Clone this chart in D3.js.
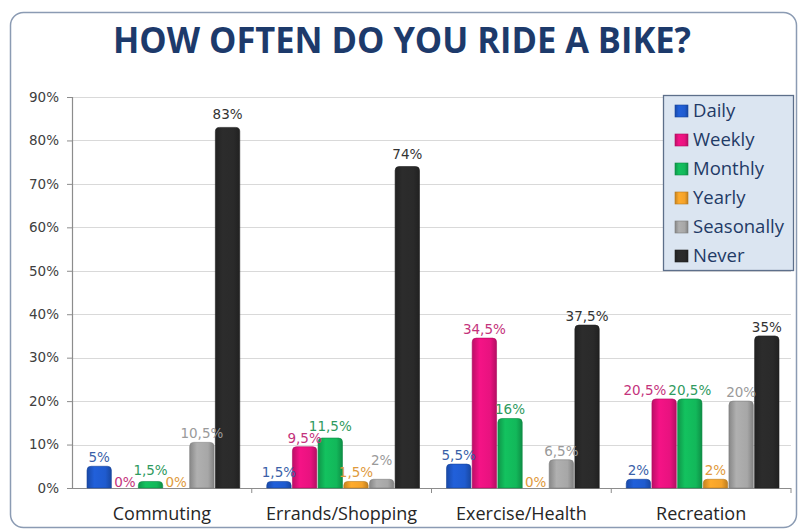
<!DOCTYPE html>
<html>
<head>
<meta charset="utf-8">
<script src="https://cdn.jsdelivr.net/npm/d3@7"></script>
<style>
  html, body { margin: 0; padding: 0; background: #ffffff; }
  svg { display: block; }
</style>
</head>
<body>
<svg id="chart" width="799" height="531"></svg>
<script>
// Survey results: how often respondents ride a bike, by purpose
const categories = ["Commuting", "Errands/Shopping", "Exercise/Health", "Recreation"];
const series = ["Daily", "Weekly", "Monthly", "Yearly", "Seasonally", "Never"];
const daily      = [5, 1.5, 5.5, 2];
const weekly     = [0, 9.5, 34.5, 20.5];
const monthly    = [1.5, 11.5, 16, 20.5];
const yearly     = [0, 1.5, 0, 2];
const seasonally = [10.5, 2, 6.5, 20];
const never      = [83, 74, 37.5, 35];
const yTicks = [0, 10, 20, 30, 40, 50, 60, 70, 80, 90];

const valuesBySeries = { Daily: daily, Weekly: weekly, Monthly: monthly, Yearly: yearly, Seasonally: seasonally, Never: never };

const barColor = { Daily: "#1f5bcf", Weekly: "#e8127f", Monthly: "#12b85a", Yearly: "#f4a229", Seasonally: "#a7a7a7", Never: "#2a2a2a" };
const labelColor = { Daily: "#3a5fa8", Weekly: "#c4337c", Monthly: "#2f9a60", Yearly: "#e09a3c", Seasonally: "#9a9a9a", Never: "#333333" };

const svg = d3.select("#chart");
const plot = { left: 72, right: 791, top: 97, bottom: 488 };

// Outer frame
svg.append("rect")
  .attr("x", 10.5).attr("y", 12.5)
  .attr("width", 786).attr("height", 515)
  .attr("rx", 13).attr("ry", 13)
  .attr("fill", "#ffffff")
  .attr("stroke", "#8b9bb3").attr("stroke-width", 1.5);

// Title
svg.append("text")
  .attr("x", 402).attr("y", 53)
  .attr("text-anchor", "middle")
  .attr("font-family", "'Open Sans', sans-serif")
  .attr("font-weight", 700)
  .attr("font-size", 36)
  .attr("fill", "#1d3a6b")
  .attr("textLength", 578)
  .attr("lengthAdjust", "spacingAndGlyphs")
  .text("HOW OFTEN  DO YOU RIDE A BIKE?");

const x = d3.scaleBand().domain(categories).range([plot.left, plot.right]).paddingInner(0).paddingOuter(0);
const xs = d3.scaleBand().domain(series).range([15, x.bandwidth() - 12]).paddingInner(0.05);
const y = d3.scaleLinear().domain([0, 90]).range([plot.bottom, plot.top]);

// Horizontal gridlines
svg.append("g")
  .selectAll("line")
  .data(yTicks.filter(d => d > 0))
  .join("line")
  .attr("x1", plot.left).attr("x2", plot.right)
  .attr("y1", d => Math.round(y(d)) + 0.5).attr("y2", d => Math.round(y(d)) + 0.5)
  .attr("stroke", "#d9d9d9").attr("stroke-width", 1.2);

// Y axis
const yAxis = svg.append("g")
  .attr("transform", `translate(${plot.left},0)`)
  .call(d3.axisLeft(y).tickValues(yTicks).tickFormat(d => d + "%").tickSize(5).tickPadding(8));
yAxis.select(".domain").attr("stroke", "#8c8c8c").attr("stroke-width", 1.2);
yAxis.selectAll(".tick line").attr("stroke", "#8c8c8c");
yAxis.selectAll(".tick text")
  .attr("font-family", "'DejaVu Sans', sans-serif")
  .attr("font-size", 13.5)
  .attr("fill", "#404040");

// X axis with ticks at category boundaries
const xAxisG = svg.append("g").attr("transform", `translate(0,${plot.bottom})`);
xAxisG.append("line")
  .attr("x1", plot.left).attr("x2", plot.right)
  .attr("y1", 0.5).attr("y2", 0.5)
  .attr("stroke", "#8c8c8c").attr("stroke-width", 1.2);
xAxisG.selectAll("line.tick")
  .data(categories.slice(1).concat(["__end"]))
  .join("line")
  .attr("class", "tick")
  .attr("x1", (d, i) => i < categories.length - 1 ? x(d) : plot.right)
  .attr("x2", (d, i) => i < categories.length - 1 ? x(d) : plot.right)
  .attr("y1", 0).attr("y2", 5)
  .attr("stroke", "#8c8c8c");
xAxisG.selectAll("text")
  .data(categories)
  .join("text")
  .attr("x", d => x(d) + x.bandwidth() / 2)
  .attr("y", 32)
  .attr("text-anchor", "middle")
  .attr("font-family", "'Open Sans', sans-serif")
  .attr("font-size", 18)
  .attr("fill", "#262626")
  .text(d => d);

// Glossy horizontal gradients for the bars
const defs = svg.append("defs");
series.forEach((s, i) => {
  const base = d3.color(barColor[s]);
  const g = defs.append("linearGradient").attr("id", "grad" + i).attr("x1", "0%").attr("x2", "100%").attr("y1", "0%").attr("y2", "0%");
  g.append("stop").attr("offset", "0%").attr("stop-color", base.darker(0.6));
  g.append("stop").attr("offset", "30%").attr("stop-color", base.brighter(0.15));
  g.append("stop").attr("offset", "75%").attr("stop-color", base);
  g.append("stop").attr("offset", "100%").attr("stop-color", base.darker(0.7));
});

// Bar with rounded top corners
function barPath(x0, w, yTop, yBase) {
  const h = yBase - yTop;
  const r = Math.min(4, w / 2, h);
  return `M${x0},${yBase} L${x0},${yTop + r} Q${x0},${yTop} ${x0 + r},${yTop} L${x0 + w - r},${yTop} Q${x0 + w},${yTop} ${x0 + w},${yTop + r} L${x0 + w},${yBase} Z`;
}

const rows = [];
categories.forEach((c, ci) => {
  series.forEach((s, si) => {
    rows.push({ category: c, series: s, si, value: valuesBySeries[s][ci] });
  });
});

const bars = svg.append("g");
bars.selectAll("path")
  .data(rows.filter(d => d.value > 0))
  .join("path")
  .attr("d", d => barPath(x(d.category) + xs(d.series), xs.bandwidth(), y(d.value), y(0)))
  .attr("fill", d => `url(#grad${d.si})`)
  .attr("stroke", d => d3.color(barColor[d.series]).darker(0.8))
  .attr("stroke-width", 0.6);

// Value labels
const fmt = v => String(v).replace(".", ",") + "%";
const labelSize = 13.5;
const labels = svg.append("g")
  .selectAll("text")
  .data(rows)
  .join("text")
  .attr("x", d => x(d.category) + xs(d.series) + xs.bandwidth() / 2)
  .attr("y", d => y(d.value) - (d.value === 0 ? 1 : (d.value > 60 ? 8 : 4)))
  .attr("text-anchor", "middle")
  .attr("font-family", "'DejaVu Sans', sans-serif")
  .attr("font-size", labelSize)
  .attr("fill", d => labelColor[d.series])
  .text(d => fmt(d.value));

// Nudge labels that collide within a category: equal values slide the left one
// sideways, otherwise the label of the taller bar is lifted above the other.
const boxes = [];
labels.each(function (d) {
  const w = this.getComputedTextLength();
  boxes.push({ el: this, d, cx: +this.getAttribute("x"), by: +this.getAttribute("y"), w });
});
const boxOf = b => ({ l: b.cx - b.w / 2, r: b.cx + b.w / 2, t: b.by - 0.73 * labelSize, bt: b.by + 0.02 * labelSize });
categories.forEach(c => {
  const group = boxes.filter(b => b.d.category === c);
  for (let i = 1; i < group.length; i++) {
    for (let j = 0; j < i; j++) {
      const a = boxOf(group[j]), b = boxOf(group[i]);
      const hx = Math.min(a.r, b.r) - Math.max(a.l, b.l);
      const vy = Math.min(a.bt, b.bt) - Math.max(a.t, b.t);
      if (hx > 0.5 && vy > 0) {
        if (group[j].d.value === group[i].d.value) {
          group[j].cx -= hx + 2;
          group[j].el.setAttribute("x", group[j].cx);
        } else {
          const [hi, lo] = group[i].d.value > group[j].d.value ? [group[i], group[j]] : [group[j], group[i]];
          const loBox = boxOf(lo);
          hi.by = loBox.t - 2 - 0.02 * labelSize;
          hi.el.setAttribute("y", hi.by);
        }
      }
    }
  }
});

// Legend
const lg = svg.append("g").attr("transform", "translate(663,95)");
lg.append("rect")
  .attr("x", 0.5).attr("y", 0.5)
  .attr("width", 130).attr("height", 175)
  .attr("fill", "#dbe5f1")
  .attr("stroke", "#5d6f8a").attr("stroke-width", 1.3);
const items = lg.selectAll("g.item")
  .data(series)
  .join("g")
  .attr("class", "item")
  .attr("transform", (d, i) => `translate(12,${22 + i * 29})`);
items.append("rect")
  .attr("x", 0).attr("y", -12)
  .attr("width", 13).attr("height", 12)
  .attr("fill", (d, i) => `url(#grad${i})`)
  .attr("stroke", d => d3.color(barColor[d]).darker(0.8))
  .attr("stroke-width", 0.6);
items.append("text")
  .attr("x", 18).attr("y", 0)
  .attr("font-family", "'Open Sans', sans-serif")
  .attr("font-size", 18.5)
  .attr("fill", "#1f3a66")
  .text(d => d);
</script>
</body>
</html>
